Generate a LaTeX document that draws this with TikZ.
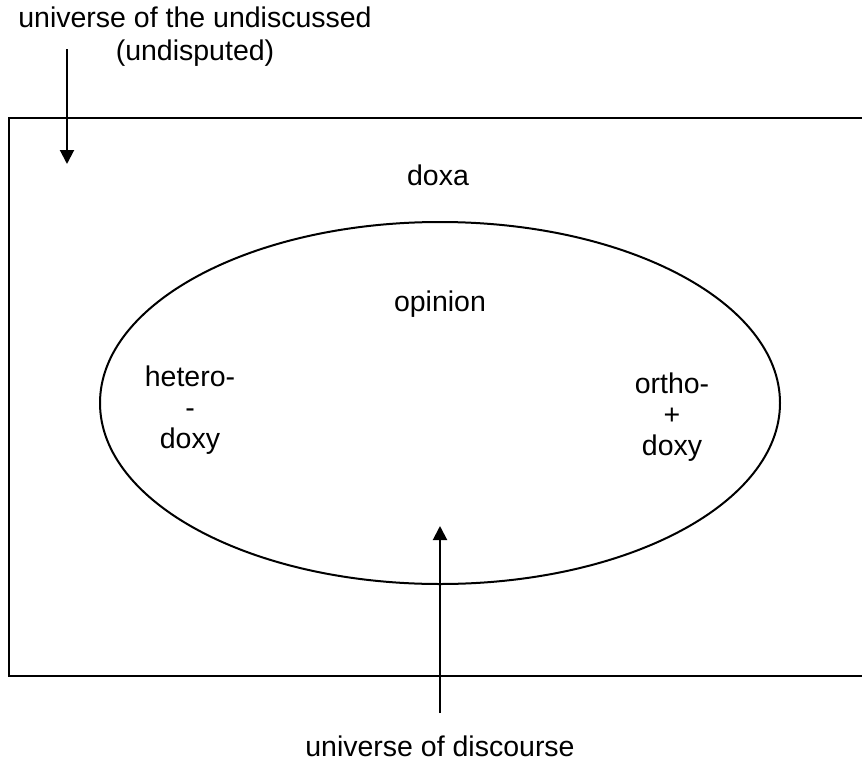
\documentclass[tikz,border=0pt]{standalone}
\usepackage{fontspec}
\setmainfont{Liberation Sans}
\usetikzlibrary{arrows.meta}
\tikzset{
  lbl/.style={font=\fontsize{28.5}{31}\selectfont, align=center, inner sep=0pt},
  pointer/.style={line width=2pt, -{Triangle[length=14pt,width=14pt]}}
}
\begin{document}
\begin{tikzpicture}[x=1pt,y=-1pt]
			\useasboundingbox (0,0) rectangle (862,763);
			\begin{scope}
			\clip (0,0) rectangle (862,763);
			% Doxa frame
			\draw[line width=2pt] (870,118) -- (9,118) -- (9,676) -- (870,676);
			\end{scope}

			% Opinion ellipse
			\draw[line width=2pt] (440,403) ellipse [x radius=340, y radius=181];

			% Labels
			\node[lbl, font=\fontsize{28.5}{33}\selectfont] (undiscussed) at (195,37) {universe of the undiscussed\\(undisputed)};
			\node[lbl] (doxa) at (438,175) {doxa};
			\node[lbl] (opinion) at (440,304) {opinion};
			\node[lbl] (hetero) at (190,410) {hetero-\\-\\doxy};
			\node[lbl] (ortho) at (672,417) {ortho-\\+\\doxy};
			\node[lbl] (discourse) at (440,746) {universe of discourse};

			% Arrows
			\coordinate (undisputedtop) at (67,49);
			\coordinate (undisputedtip) at (67,164);
			\coordinate (discoursefoot) at (440,713);
			\coordinate (discoursetip) at (440,526);
			\draw[pointer] (undisputedtop) -- (undisputedtip);
			\draw[pointer] (discoursefoot) -- (discoursetip);
		\end{tikzpicture}
\end{document}
